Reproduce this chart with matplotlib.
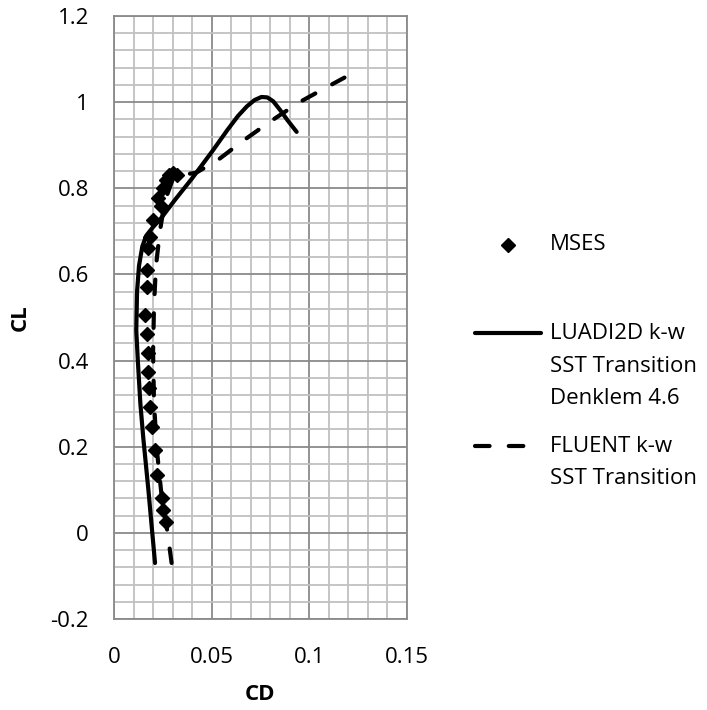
import matplotlib
matplotlib.use('Agg')
import matplotlib.pyplot as plt
from matplotlib.lines import Line2D
from matplotlib.ticker import MultipleLocator, FixedLocator

plt.rcParams['font.family'] = ['Open Sans', 'DejaVu Sans']
plt.rcParams['axes.unicode_minus'] = False

# MSES (diamonds)
mses_cd = [0.0265, 0.0253, 0.0247, 0.0219, 0.0210, 0.0193, 0.0184, 0.0180, 0.0176,
           0.0172, 0.0167, 0.0159, 0.0167, 0.0167, 0.0176, 0.0184, 0.0201, 0.0227,
           0.0240, 0.0250, 0.0265, 0.0280, 0.0300, 0.0320]
mses_cl = [0.026, 0.053, 0.080, 0.134, 0.192, 0.246, 0.293, 0.336, 0.374,
           0.417, 0.461, 0.506, 0.570, 0.610, 0.661, 0.688, 0.726, 0.777,
           0.760, 0.800, 0.820, 0.830, 0.835, 0.830]

# LUADI2D k-w SST Transition Denklem 4.6 (solid)
luadi_cd = [0.0210, 0.0176, 0.0150, 0.0135, 0.0122, 0.0114, 0.0118, 0.0128, 0.0145,
            0.0165, 0.0200, 0.0240, 0.0312, 0.0398, 0.0508, 0.0580, 0.0635, 0.0680,
            0.0720, 0.0755, 0.0785, 0.0815, 0.0850, 0.0890, 0.0935]
luadi_cl = [-0.07, 0.10, 0.22, 0.30, 0.40, 0.47, 0.56, 0.62, 0.665,
            0.69, 0.71, 0.73, 0.773, 0.822, 0.889, 0.935, 0.968, 0.990,
            1.005, 1.012, 1.011, 1.002, 0.982, 0.957, 0.931]

# FLUENT k-w SST Transition (dashed)
fluent_cd = [0.0295, 0.0265, 0.0245, 0.0220, 0.0205, 0.0200, 0.0205, 0.0215, 0.0235,
             0.0260, 0.0300, 0.0360, 0.0420, 0.0530, 0.0660, 0.0800, 0.0950, 0.1050, 0.1180]
fluent_cl = [-0.07, 0.03, 0.08, 0.19, 0.30, 0.42, 0.53, 0.62, 0.70,
             0.77, 0.82, 0.832, 0.836, 0.865, 0.910, 0.955, 1.000, 1.025, 1.057]

fig = plt.figure(figsize=(7.07, 7.10), dpi=100)
ax = fig.add_axes([114 / 707, 1 - 619 / 710, 293 / 707, 603 / 710])

ax.plot(luadi_cd, luadi_cl, color='black', lw=3, solid_capstyle='round',
        solid_joinstyle='round')
ax.plot(fluent_cd, fluent_cl, color='black', lw=3, dashes=(3.5, 4.6),
        dash_capstyle='round', dash_joinstyle='round')
ax.plot(mses_cd, mses_cl, linestyle='none', marker='D', ms=7.5, color='black')

ax.set_xlim(0, 0.15)
ax.set_ylim(-0.2, 1.2)
ax.xaxis.set_major_locator(FixedLocator([0, 0.05, 0.1, 0.15]))
ax.xaxis.set_minor_locator(MultipleLocator(0.01))
ax.yaxis.set_major_locator(FixedLocator([-0.2, 0, 0.2, 0.4, 0.6, 0.8, 1.0, 1.2]))
ax.yaxis.set_minor_locator(MultipleLocator(0.04))
ax.set_xticklabels(['0', '0.05', '0.1', '0.15'])
ax.set_yticklabels(['-0.2', '0', '0.2', '0.4', '0.6', '0.8', '1', '1.2'])

ax.grid(which='minor', color='#c0c0c0', lw=1.3)
ax.grid(which='major', color='#8a8a8a', lw=1.3)
ax.set_axisbelow(True)
for s in ax.spines.values():
    s.set_color('#8a8a8a')
    s.set_linewidth(1.3)
ax.tick_params(which='both', length=0, labelsize=16)
ax.tick_params(axis='x', pad=20)
ax.tick_params(axis='y', pad=18)

ax.set_xlabel('CD', fontsize=16, fontweight='bold', labelpad=12)
ax.set_ylabel('CL', fontsize=16, fontweight='bold', labelpad=14)

# legend drawn by hand (handle aligned with first text line, as in Excel)
def fx(px):
    return px / 707

def fy(py):
    return 1 - py / 710

fig.add_artist(Line2D([fx(508)], [fy(245)], marker='D', ms=7.5, color='black',
                      linestyle='none', transform=fig.transFigure))
fig.text(fx(550), fy(245), 'MSES', fontsize=16, va='center')

fig.add_artist(Line2D([fx(475), fx(541)], [fy(333), fy(333)], color='black', lw=3,
                      solid_capstyle='round', transform=fig.transFigure))
for i, t in enumerate(['LUADI2D k-w', 'SST Transition', 'Denklem 4.6']):
    fig.text(fx(550), fy(333 + 33 * i), t, fontsize=16, va='center')

fig.add_artist(Line2D([fx(475), fx(525)], [fy(446), fy(446)], color='black', lw=3,
                      dashes=(3.5, 4.6), dash_capstyle='round',
                      transform=fig.transFigure))
for i, t in enumerate(['FLUENT k-w', 'SST Transition']):
    fig.text(fx(550), fy(446 + 33 * i), t, fontsize=16, va='center')

fig.savefig('out.png', dpi=100)
